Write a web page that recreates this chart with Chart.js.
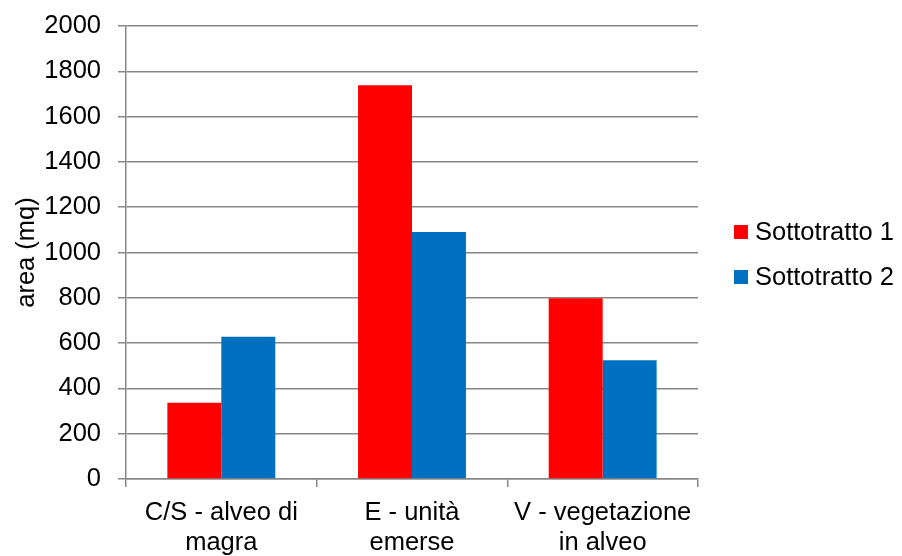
<!DOCTYPE html>
<html>
<head>
<meta charset="utf-8">
<script src="https://cdn.jsdelivr.net/npm/chart.js@4.4.1/dist/chart.umd.min.js"></script>
<style>
html,body{margin:0;padding:0;background:#fff;}
canvas{display:block;}
</style>
</head>
<body>
<canvas id="c" width="902" height="556"></canvas>
<script>
const categories = [["C/S - alveo di", "magra"], ["E - unità", "emerse"], ["V - vegetazione", "in alveo"]];
const seriesNames = ["Sottotratto 1", "Sottotratto 2"];
const sottotratto1 = [337, 1738, 798];
const sottotratto2 = [628, 1090, 524];
const yMin = 0, yMax = 2000, yStep = 200;
const yTitle = "area (mq)";

const FONT = "'Liberation Sans', Arial, sans-serif";
const GRID = "#878787";

const legendPlugin = {
  id: 'sideLegend',
  afterDraw(chart) {
    const ctx = chart.ctx;
    ctx.save();
    ctx.font = "25.5px " + FONT;
    ctx.textBaseline = 'middle';
    ctx.textAlign = 'left';
    chart.data.datasets.forEach((ds, i) => {
      const cy = 232 + i * 45;
      ctx.fillStyle = ds.backgroundColor;
      ctx.fillRect(734, cy - 7, 14, 14);
      ctx.fillStyle = '#000';
      ctx.fillText(ds.label, 755, cy + 1);
    });
    ctx.restore();
  }
};

new Chart(document.getElementById('c'), {
  type: 'bar',
  data: {
    labels: categories,
    datasets: [
      { label: seriesNames[0], data: sottotratto1, backgroundColor: '#FF0000', categoryPercentage: 0.566, barPercentage: 1 },
      { label: seriesNames[1], data: sottotratto2, backgroundColor: '#0070C0', categoryPercentage: 0.566, barPercentage: 1 }
    ]
  },
  options: {
    responsive: false,
    animation: false,
    layout: { padding: { top: 26, right: 204, left: 0, bottom: 0 } },
    plugins: { legend: { display: false }, tooltip: { enabled: false } },
    scales: {
      x: {
        offset: true,
        grid: {
          offset: true,
          drawOnChartArea: true,
          color: (c) => (c.index === categories.length ? GRID : 'rgba(0,0,0,0)'),
          tickColor: GRID,
          tickLength: 8,
          lineWidth: 1.5
        },
        border: { color: GRID, width: 1.5 },
        ticks: { color: '#000', font: { family: FONT, size: 25.5, lineHeight: 1.18 }, padding: 11, maxRotation: 0, autoSkip: false },
        afterFit: (s) => { s.height = 77; s.paddingLeft = 0; s.paddingRight = 0; s.paddingTop = 0; s.paddingBottom = 0; }
      },
      y: {
        min: yMin, max: yMax,
        grid: { color: GRID, tickColor: GRID, tickLength: 8, lineWidth: 1.5 },
        border: { color: GRID, width: 1.5 },
        ticks: { stepSize: yStep, color: '#000', font: { family: FONT, size: 25.5 }, padding: 17, callback: (v) => String(v) },
        title: { display: true, text: yTitle, color: '#000', font: { family: FONT, size: 25.5, lineHeight: 1.2 }, padding: { top: 12, bottom: 0 } },
        afterFit: (s) => { s.width = 126; s.paddingTop = 0; s.paddingBottom = 0; s.paddingLeft = 0; s.paddingRight = 0; }
      }
    }
  },
  plugins: [legendPlugin]
});
</script>
</body>
</html>
